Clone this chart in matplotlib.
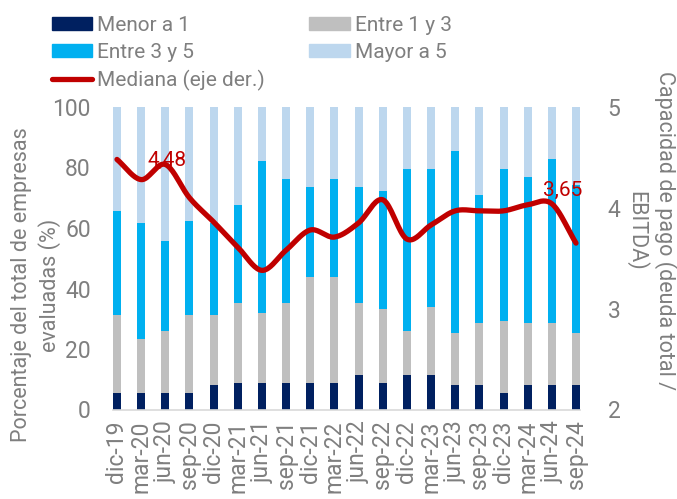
import numpy as np
import matplotlib.pyplot as plt
from matplotlib.patches import Patch
from matplotlib.lines import Line2D

plt.rcParams['font.family'] = ['Roboto', 'DejaVu Sans']

# datos
fechas = ["dic-19", "mar-20", "jun-20", "sep-20", "dic-20", "mar-21", "jun-21",
          "sep-21", "dic-21", "mar-22", "jun-22", "sep-22", "dic-22", "mar-23",
          "jun-23", "sep-23", "dic-23", "mar-24", "jun-24", "sep-24"]
menor1 = [5.5, 5.5, 5.5, 5.5, 8.2, 8.8, 8.8, 8.8, 8.8, 8.8, 11.4, 8.8, 11.4, 11.4,
          8.2, 8.2, 5.5, 8.2, 8.2, 8.2]
hasta3 = [31.2, 23.4, 26.0, 31.2, 31.2, 35.3, 32.0, 35.3, 43.8, 43.8, 35.3, 33.2,
          26.0, 33.9, 25.3, 28.6, 29.2, 28.6, 28.6, 25.3]   # acumulado
hasta5 = [65.6, 61.7, 55.7, 62.3, 61.7, 67.6, 82.3, 76.3, 73.6, 76.3, 73.6, 72.3,
          79.6, 79.6, 85.5, 71.0, 79.6, 76.9, 82.9, 74.3]   # acumulado
mediana = [4.48, 4.28, 4.43, 4.10, 3.86, 3.61, 3.38, 3.58, 3.78, 3.71, 3.85, 4.08,
           3.69, 3.83, 3.97, 3.97, 3.97, 4.03, 4.04, 3.65]

c_menor = "#002060"
c_e13 = "#BFBFBF"
c_e35 = "#00B0F0"
c_may = "#BDD7EE"
c_med = "#C00000"
gris = "#7F7F7F"

menor1 = np.array(menor1)
e13 = np.array(hasta3) - menor1
e35 = np.array(hasta5) - np.array(hasta3)
may5 = 100 - np.array(hasta5)


def suavizar(y, n=20):
    # curva tipo Catmull-Rom (como la linea suavizada de Excel)
    x = np.arange(len(y), dtype=float)
    y = np.asarray(y, dtype=float)
    px = np.concatenate([[2 * x[0] - x[1]], x, [2 * x[-1] - x[-2]]])
    py = np.concatenate([[2 * y[0] - y[1]], y, [2 * y[-1] - y[-2]]])
    xs, ys = [], []
    t = np.linspace(0, 1, n, endpoint=False)
    for i in range(1, len(px) - 2):
        for arr, out in ((px, xs), (py, ys)):
            p0, p1, p2, p3 = arr[i - 1], arr[i], arr[i + 1], arr[i + 2]
            out.extend(0.5 * ((2 * p1) + (-p0 + p2) * t +
                              (2 * p0 - 5 * p1 + 4 * p2 - p3) * t ** 2 +
                              (-p0 + 3 * p1 - 3 * p2 + p3) * t ** 3))
    xs.append(x[-1])
    ys.append(y[-1])
    return np.array(xs), np.array(ys)


fig = plt.figure(figsize=(6.77, 4.99), dpi=100)
ax = fig.add_axes([113 / 677, 1 - 409.5 / 499, 467 / 677, 302.5 / 499])
x = np.arange(len(fechas))
w = 0.33
ax.bar(x, menor1, w, color=c_menor)
ax.bar(x, e13, w, bottom=menor1, color=c_e13)
ax.bar(x, e35, w, bottom=menor1 + e13, color=c_e35)
ax.bar(x, may5, w, bottom=menor1 + e13 + e35, color=c_may)

ax.set_xlim(-w / 2, len(fechas) - 1 + w / 2)
ax.set_ylim(0, 100)
ax.set_yticks([0, 20, 40, 60, 80, 100])
ax.set_xticks(x)
ax.set_xticklabels(fechas, rotation=90)
ax.tick_params(axis='both', length=0, colors=gris, labelsize=16.5)
ax.tick_params(axis='y', pad=16)
ax.tick_params(axis='x', pad=8)
for s in ['top', 'right', 'left']:
    ax.spines[s].set_visible(False)
ax.spines['bottom'].set_color("#D9D9D9")
ax.spines['bottom'].set_linewidth(1.2)

ax2 = ax.twinx()
sx, sy = suavizar(mediana)
ax2.plot(sx, sy, color=c_med, lw=3.8, solid_capstyle='round')
ax2.set_ylim(2, 5)
ax2.set_yticks([2, 3, 4, 5])
ax2.tick_params(axis='y', length=0, colors=gris, labelsize=16.5, pad=20)
for s in ax2.spines.values():
    s.set_visible(False)

ax2.text(2.07, 4.47, "4,48", color=c_med, fontsize=15, ha='center', va='center')
ax2.text(18.45, 4.17, "3,65", color=c_med, fontsize=15, ha='center', va='center')

fig.text(36 / 677, 1 - 285 / 499, "Porcentaje del total de empresas\nevaluadas (%)",
         rotation=90, ha='center', va='center', multialignment='center',
         color=gris, fontsize=15.5, linespacing=1.3)
fig.text(651 / 677, 1 - 231 / 499, "Capacidad de pago (deuda total /\nEBITDA)",
         rotation=270, ha='center', va='center', multialignment='center',
         color=gris, fontsize=15.5, linespacing=1.3)

handles = [Patch(color=c_menor), Patch(color=c_e35),
           Line2D([0], [0], color=c_med, lw=3.8, solid_capstyle='round'),
           Patch(color=c_e13), Patch(color=c_may)]
labels = ["Menor a 1", "Entre 3 y 5", "Mediana (eje der.)", "Entre 1 y 3", "Mayor a 5"]
leg = fig.legend(handles, labels, ncol=2, loc='upper left',
                 bbox_to_anchor=(37 / 677, 1 - 1 / 499), frameon=False,
                 fontsize=15, handlelength=1.95, handleheight=0.6,
                 handletextpad=0.25, columnspacing=2.1, labelspacing=0.38,
                 borderpad=0.2)
for t in leg.get_texts():
    t.set_color(gris)

fig.savefig("out.png", dpi=100)
